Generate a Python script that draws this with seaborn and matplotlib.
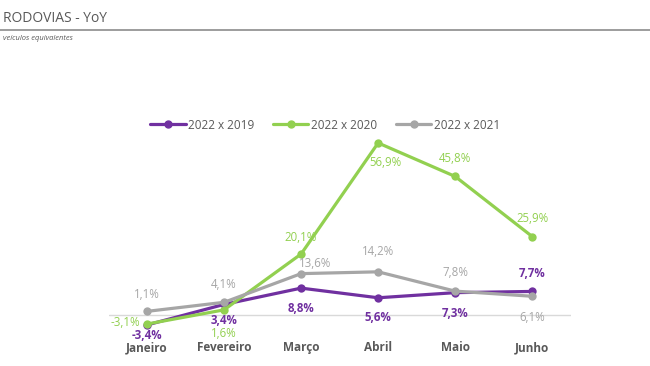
import pandas as pd
import seaborn as sns
import matplotlib.pyplot as plt
from matplotlib.lines import Line2D

# dados (variação % ano contra ano)
meses = ["Janeiro", "Fevereiro", "Março", "Abril", "Maio", "Junho"]
series = ["2022 x 2019", "2022 x 2020", "2022 x 2021"]
yoy_2019 = [-3.4, 3.4, 8.8, 5.6, 7.3, 7.7]
yoy_2020 = [-3.1, 1.6, 20.1, 56.9, 45.8, 25.9]
yoy_2021 = [1.1, 4.1, 13.6, 14.2, 7.8, 6.1]

df = pd.DataFrame({
    "pos": list(range(len(meses))) * 3,
    "valor": yoy_2019 + yoy_2020 + yoy_2021,
    "serie": [s for s in series for _ in meses],
})

cores = {"2022 x 2019": "#7030A0", "2022 x 2020": "#92D050", "2022 x 2021": "#A6A6A6"}
# deslocamento dos rótulos em pixels (dx, dy para baixo)
offsets = {
    "2022 x 2019": [(0, 11), (0, 16), (0, 20), (0, 20), (0, 21), (0, -18)],
    "2022 x 2020": [(-22, -2), (0, 24), (0, -17), (7, 20), (0, -18), (0, -18)],
    "2022 x 2021": [(0, -17), (0, -18), (14, -10), (0, -20), (0, -19), (0, 21)],
}
negrito = {"2022 x 2019": "bold", "2022 x 2020": "normal", "2022 x 2021": "normal"}

sns.set_theme(style="white")
plt.rcParams['font.family'] = ['Open Sans', 'DejaVu Sans']

fig = plt.figure(figsize=(6.5, 3.66), dpi=100)
ax = fig.add_axes([0.167, 0.0825, 0.711, 0.5525])

ax.axhline(0, color="#D9D9D9", linewidth=1, zorder=0)
sns.lineplot(data=df, x="pos", y="valor", hue="serie", palette=cores,
             marker="o", markersize=6, markeredgewidth=0, linewidth=2.3,
             sort=False, ax=ax)

for s in series:
    sub = df[df["serie"] == s]
    for (x, v), (dx, dy) in zip(zip(sub["pos"], sub["valor"]), offsets[s]):
        txt = f"{v:.1f}%".replace(".", ",")
        ax.annotate(txt, (x, v), xytext=(dx, -dy), textcoords="offset pixels",
                    ha="center", va="center", fontsize=8.3, color=cores[s],
                    fontweight=negrito[s])

ax.set_xlim(-0.5, 5.5)
ax.set_ylim(-7, 60)
ax.set_xticks(range(len(meses)))
ax.set_xticklabels(meses, fontsize=8.5, fontweight="bold", color="#595959")
ax.tick_params(axis="x", length=0, pad=4)
ax.set_yticks([])
ax.set_xlabel("")
ax.set_ylabel("")
for sp in ax.spines.values():
    sp.set_visible(False)

handles = [Line2D([0], [0], color=cores[s], lw=2.3, marker="o", markersize=5) for s in series]
ax.legend(handles, series, loc="center", ncol=3, frameon=False,
          fontsize=8.5, labelcolor="#595959", handlelength=3, handletextpad=0.2,
          columnspacing=1.6)
ax.get_legend().set_bbox_to_anchor((0.5, 1 - 125 / 366), transform=fig.transFigure)

# título
fig.text(0.005, 1 - 18 / 366, "RODOVIAS - YoY", fontsize=10, color="#595959",
         ha="left", va="center")
fig.add_artist(Line2D([0, 1], [1 - 30 / 366, 1 - 30 / 366], color="#8C8C8C",
                      lw=1.2, transform=fig.transFigure))
fig.text(0.005, 1 - 38 / 366, "veículos equivalentes", fontsize=5.4,
         style="italic", color="#595959", ha="left", va="center")

fig.savefig("out.png", dpi=100)
